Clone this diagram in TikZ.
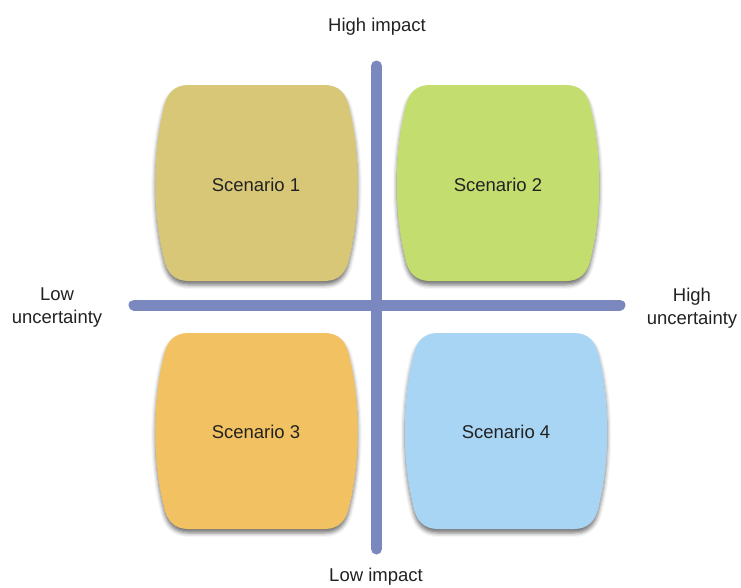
\documentclass[tikz,border=0pt]{standalone}
\usepackage{fontspec}
\setmainfont{Liberation Sans}
\usetikzlibrary{shadows.blur}
\definecolor{axisc}{HTML}{7B87BF}
\definecolor{c1}{HTML}{D7C777}
\definecolor{c2}{HTML}{C4DD6F}
\definecolor{c3}{HTML}{F2C262}
\definecolor{c4}{HTML}{A7D5F3}
\definecolor{txt}{HTML}{222222}
\newcommand\scenshape[3]{%
  \fill[#3, blur shadow={shadow xshift=0pt,shadow yshift=-4pt,shadow blur radius=4pt,shadow opacity=55}]
  ({#1-68},{#2-98}) -- ({#1+68},{#2-98})
  .. controls ({#1+82},{#2-98}) and ({#1+90},{#2-90}) .. ({#1+93},{#2-74})
  .. controls ({#1+104},{#2-30}) and ({#1+104},{#2+30}) .. ({#1+93},{#2+74})
  .. controls ({#1+90},{#2+90}) and ({#1+82},{#2+98}) .. ({#1+68},{#2+98})
  -- ({#1-68},{#2+98})
  .. controls ({#1-82},{#2+98}) and ({#1-90},{#2+90}) .. ({#1-93},{#2+74})
  .. controls ({#1-104},{#2+30}) and ({#1-104},{#2-30}) .. ({#1-93},{#2-74})
  .. controls ({#1-90},{#2-90}) and ({#1-82},{#2-98}) .. ({#1-68},{#2-98})
  -- cycle;}
\begin{document}
\begin{tikzpicture}[x=1pt,y=-1pt,
  lbl/.style={text=txt,font=\fontsize{18.5}{23}\selectfont,align=center,inner sep=0pt},
  axisline/.style={draw=axisc,line width=11pt,line cap=round}]
\useasboundingbox (0,0) rectangle (741,587);
\scenshape{256.5}{183}{c1}
\scenshape{498}{183}{c2}
\scenshape{256.5}{431}{c3}
\scenshape{506}{431}{c4}
\node[lbl] (s1) at (256,185) {Scenario 1};
\node[lbl] (s2) at (498,185) {Scenario 2};
\node[lbl] (s3) at (256,432) {Scenario 3};
\node[lbl] (s4) at (506,432) {Scenario 4};
\coordinate (vtop) at (376.5,66);
\coordinate (vbot) at (376.5,549);
\coordinate (hleft) at (134,305);
\coordinate (hright) at (620,305);
\draw[axisline] (vtop) -- (vbot);
\draw[axisline] (hleft) -- (hright);
\node[lbl] (hi) at (377,27) {High impact};
\node[lbl] (li) at (376,577) {Low impact};
\node[lbl] (lu) at (57,308) {Low\\uncertainty};
\node[lbl] (hu) at (692,308) {High\\uncertainty};
\end{tikzpicture}
\end{document}
